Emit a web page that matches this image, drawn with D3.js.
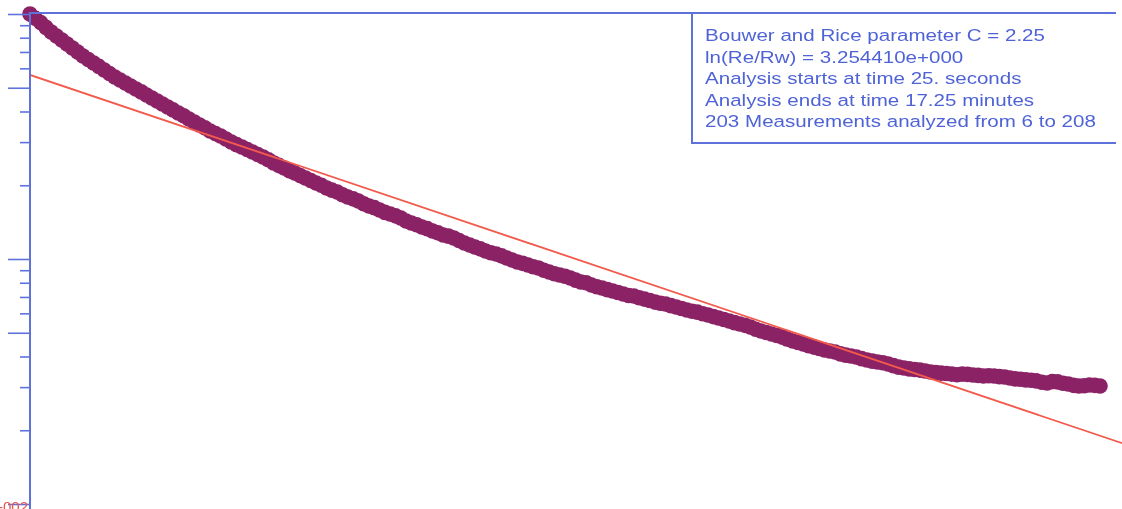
<!DOCTYPE html>
<html>
<head>
<meta charset="utf-8">
<script src="https://cdn.jsdelivr.net/npm/d3@7"></script>
<style>
  html, body { margin: 0; padding: 0; background: #fff; overflow: hidden; }
  svg { display: block; }
</style>
</head>
<body>
<svg id="chart" width="1122" height="509"></svg>
<script>
// Elapsed time (seconds) of the 203 measurements analysed (6 to 208)
const times = [
  25,30,35,40,45,50,55,60,65,70,75,80,85,90,95,100,105,110,115,120,
  125,130,135,140,145,150,155,160,165,170,175,180,185,190,195,200,205,210,215,220,
  225,230,235,240,245,250,255,260,265,270,275,280,285,290,295,300,305,310,315,320,
  325,330,335,340,345,350,355,360,365,370,375,380,385,390,395,400,405,410,415,420,
  425,430,435,440,445,450,455,460,465,470,475,480,485,490,495,500,505,510,515,520,
  525,530,535,540,545,550,555,560,565,570,575,580,585,590,595,600,605,610,615,620,
  625,630,635,640,645,650,655,660,665,670,675,680,685,690,695,700,705,710,715,720,
  725,730,735,740,745,750,755,760,765,770,775,780,785,790,795,800,805,810,815,820,
  825,830,835,840,845,850,855,860,865,870,875,880,885,890,895,900,905,910,915,920,
  925,930,935,940,945,950,955,960,965,970,975,980,985,990,995,1000,1005,1010,1015,1020,
  1025,1030,1035];
// Normalised head H/H0 (log scale)
const heads = [
  1.0000,0.960,0.9232,0.882,0.8444,0.813,0.7832,0.754,0.7265,0.699,
  0.6739,0.652,0.6310,0.611,0.5908,0.572,0.5532,0.538,0.5228,0.508,
  0.4942,0.481,0.4671,0.454,0.4415,0.429,0.4173,0.406,0.3944,0.384,
  0.3728,0.362,0.3523,0.343,0.3330,0.325,0.3177,0.309,0.3003,0.293,
  0.2865,0.280,0.2734,0.267,0.2608,0.254,0.2465,0.241,0.2352,0.229,
  0.2244,0.219,0.2141,0.209,0.2043,0.200,0.1949,0.191,0.1877,0.183,
  0.1791,0.176,0.1725,0.168,0.1646,0.162,0.1585,0.155,0.1527,0.150,
  0.1470,0.143,0.1403,0.138,0.1351,0.133,0.1301,0.128,0.1253,0.124,
  0.1218,0.119,0.1162,0.114,0.1119,0.110,0.1078,0.106,0.1048,0.103,
  0.1010,0.099,0.0972,0.096,0.0945,0.093,0.0919,0.090,0.0885,0.087,
  0.0860,0.085,0.0836,0.082,0.0806,0.080,0.0783,0.077,0.0761,0.075,
  0.0740,0.073,0.0720,0.071,0.0706,0.0695,0.0686,0.0677,0.0667,0.0660,
  0.0655,0.0645,0.0637,0.0628,0.0619,0.0612,0.0607,0.0598,0.0591,0.0582,
  0.0574,0.0566,0.0558,0.0550,0.0543,0.0536,0.0528,0.0517,0.0508,0.0501,
  0.0494,0.0487,0.0480,0.0471,0.0463,0.0456,0.0450,0.0443,0.0437,0.0431,
  0.0425,0.0421,0.0417,0.0410,0.0405,0.0402,0.0398,0.0392,0.0387,0.0383,
  0.0380,0.0377,0.0373,0.0367,0.0362,0.0359,0.0356,0.0354,0.0352,0.0349,
  0.0346,0.0344,0.0342,0.0341,0.0339,0.0337,0.0339,0.0338,0.0336,0.0335,
  0.0333,0.0334,0.0333,0.0331,0.0330,0.0327,0.0324,0.0323,0.0321,0.0320,
  0.0318,0.0314,0.0312,0.0316,0.0315,0.0311,0.0309,0.0305,0.0303,0.0304,
  0.0306,0.0305,0.0303];
// Bouwer & Rice straight-line fit (end points)
const fitTimes = [25, 1056];
const fitHeads = [0.564, 0.0177];
// Y axis ticks
const yTicks = [1,0.9,0.8,0.7,0.6,0.5,0.4,0.3,0.2,0.1,0.09,0.08,0.07,0.06,0.05,0.04,0.03,0.02,0.01];
const yMajor = [1,0.5,0.1,0.05,0.01];
const yLabelText = "1.0e-002";
const infoLines = [
  "Bouwer and Rice parameter C = 2.25",
  "ln(Re/Rw) = 3.254410e+000",
  "Analysis starts at time 25. seconds",
  "Analysis ends at time 17.25 minutes",
  "203 Measurements analyzed from 6 to 208"
];

(function () {
const svg = d3.select("#chart");
const W = 1122, H = 509;
const mLeft = 30, mTop = 13, mRight = 1116;

const x = d3.scaleLinear().domain([25, 1035]).range([30, 1100]);
const y = d3.scaleLog().domain([1, 0.01]).range([14, 504]);

const defs = svg.append("defs");
defs.append("filter").attr("id", "soft")
  .append("feGaussianBlur").attr("stdDeviation", 0.6);
defs.append("clipPath").attr("id", "plotclip")
  .append("rect").attr("x", mLeft).attr("y", mTop).attr("width", W - mLeft).attr("height", H - mTop);

const g = svg.append("g").attr("filter", "url(#soft)");

const blue = "#5f72dc";

// data points
const pts = times.map((t, i) => ({t, v: heads[i]}));
g.append("g").selectAll("circle").data(pts).join("circle")
  .attr("cx", d => x(d.t)).attr("cy", d => y(d.v))
  .attr("r", 7.8)
  .attr("fill", "#8b2165");

// fit line
g.append("line")
  .attr("clip-path", "url(#plotclip)")
  .attr("x1", x(fitTimes[0])).attr("y1", y(fitHeads[0]))
  .attr("x2", x(fitTimes[1])).attr("y2", y(fitHeads[1]))
  .attr("stroke", "#f25a4c").attr("stroke-width", 1.8);

// frame: top border and left axis
g.append("line").attr("x1", mLeft - 1).attr("x2", mRight).attr("y1", mTop).attr("y2", mTop)
  .attr("stroke", blue).attr("stroke-width", 2);

const yAxis = d3.axisLeft(y).tickValues(yTicks).tickFormat("")
  .tickSize(10).tickSizeOuter(0);
const ax = g.append("g").attr("transform", `translate(${mLeft},0)`).call(yAxis);
ax.select(".domain").attr("stroke", blue).attr("stroke-width", 2)
  .attr("d", `M0,${mTop}V${H}`);
ax.selectAll(".tick line").attr("stroke", blue).attr("stroke-width", 1.6)
  .attr("x2", d => yMajor.includes(d) ? -22 : -10);

// tick label at bottom (clipped by the picture edge, as in the reference)
g.append("text").attr("x", 28).attr("y", 512)
  .attr("text-anchor", "end")
  .attr("font-family", "Liberation Sans, Arial, sans-serif")
  .attr("font-size", 15)
  .attr("fill", "#e8554e")
  .text(yLabelText);

// info box
const boxL = 692, boxB = 143;
g.append("rect").attr("x", boxL).attr("y", mTop + 1).attr("width", mRight - boxL).attr("height", boxB - mTop - 1)
  .attr("fill", "#fff");
g.append("path").attr("d", `M${boxL},${mTop}V${boxB}H${mRight}`)
  .attr("fill", "none").attr("stroke", blue).attr("stroke-width", 2);

const tg = g.append("g").attr("transform", `translate(705,0) scale(1.21,1)`);
tg.selectAll("text").data(infoLines).join("text")
  .attr("x", 0).attr("y", (d, i) => 41 + i * 21.6)
  .attr("font-family", "Liberation Sans, Arial, sans-serif")
  .attr("font-size", 17)
  .attr("fill", "#4f63d6")
  .text(d => d);
})();
</script>
</body>
</html>
